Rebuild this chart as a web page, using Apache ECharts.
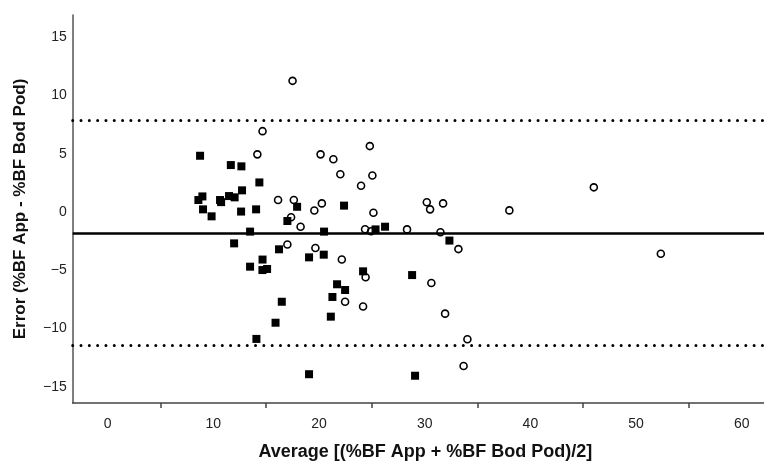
<!DOCTYPE html>
<html>
<head>
<meta charset="utf-8">
<script src="https://cdn.jsdelivr.net/npm/echarts@6/dist/echarts.min.js"></script>
<style>
html,body{margin:0;padding:0;background:#fff;}
#chart{width:764px;height:461px;}
</style>
</head>
<body>
<div id="chart"></div>
<script>
// Filled squares: average (x) and error (y)
var squareX = [8.75, 11.66, 12.66, 14.36, 12.72, 8.97, 8.59, 10.64, 10.74, 11.49, 12.02, 14.05, 12.63, 9.03, 9.84,
  17.93, 17.01, 13.48, 20.48, 22.37, 11.97, 25.35, 26.25, 32.34, 16.22, 19.06, 20.45, 14.66, 13.48, 14.65,
  15.09, 21.71, 22.47, 21.27, 16.48, 15.89, 21.12, 14.08, 19.06, 24.17, 28.81, 29.09];
var squareY = [4.82, 4.02, 3.91, 2.53, 1.85, 1.33, 1.02, 1.02, 0.84, 1.36, 1.25, 0.22, 0.03, 0.22, -0.38,
  0.44, -0.78, -1.69, -1.69, 0.54, -2.70, -1.50, -1.27, -2.46, -3.21, -3.90, -3.67, -4.09, -4.70, -4.99,
  -4.90, -6.21, -6.70, -7.30, -7.71, -9.51, -8.99, -10.90, -13.93, -5.10, -5.42, -14.06];
// Open circles: average (x) and error (y)
var circleX = [17.50, 14.66, 14.17, 20.15, 21.36, 24.81, 22.02, 25.05, 23.98, 16.13, 17.62, 20.27, 19.56,
  25.15, 30.20, 30.51, 31.74, 38.01, 46.00, 17.36, 18.26, 24.36, 24.93, 28.33, 31.49, 33.19, 17.01, 19.66,
  22.16, 24.41, 30.63, 22.47, 24.17, 31.93, 34.04, 33.68, 52.34];
var circleY = [11.25, 6.93, 4.94, 4.94, 4.52, 5.65, 3.23, 3.13, 2.24, 1.02, 1.02, 0.73, 0.12,
  -0.07, 0.83, 0.22, 0.73, 0.13, 2.11, -0.46, -1.27, -1.49, -1.66, -1.50, -1.75, -3.19, -2.80, -3.10,
  -4.09, -5.61, -6.10, -7.71, -8.12, -8.73, -10.93, -13.22, -3.59];
// Bias and limits of agreement
var meanDiff = -1.84;
var upperLoA = 7.85;
var lowerLoA = -11.48;
// Axis ticks
var xLabelValues = [0, 10, 20, 30, 40, 50, 60];
var xTickValues = [5, 15, 25, 35, 45, 55];
var yLabelValues = [-15, -10, -5, 0, 5, 10, 15];

function pairs(xs, ys) { return xs.map(function (v, i) { return [v, ys[i]]; }); }

var FONT = "'Liberation Sans', Arial, sans-serif";
var chart = echarts.init(document.getElementById('chart'), null, {renderer: 'canvas'});
var dotted = {color: '#000', width: 3, type: [0.01, 8.3], cap: 'round'};
chart.setOption({
  animation: false,
  backgroundColor: '#fff',
  grid: {left: 72.7, right: 0, top: 15, bottom: 58, containLabel: false, outerBoundsMode: 'none'},
  xAxis: {
    type: 'value', min: -3.3, max: 62.1,
    name: 'Average [(%BF App + %BF Bod Pod)/2]', nameLocation: 'middle', nameGap: 40,
    nameTextStyle: {fontFamily: FONT, fontWeight: 'bold', fontSize: 18, color: '#111', padding: [0, 0, 0, 14]},
    axisLine: {onZero: false, lineStyle: {color: '#444', width: 1.5}},
    axisTick: {show: true, customValues: xTickValues, length: 5, lineStyle: {color: '#444', width: 1.5}},
    axisLabel: {customValues: xLabelValues, fontFamily: FONT, fontSize: 14, color: '#222', margin: 14},
    splitLine: {show: false}
  },
  yAxis: {
    type: 'value', min: -16.4, max: 16.9,
    name: 'Error (%BF App - %BF Bod Pod)', nameLocation: 'middle', nameGap: 44, nameRotate: 90,
    nameTextStyle: {fontFamily: FONT, fontWeight: 'bold', fontSize: 17, color: '#111'},
    axisLine: {show: true, onZero: false, lineStyle: {color: '#555', width: 1.5}},
    axisTick: {show: false},
    axisLabel: {customValues: yLabelValues, fontFamily: FONT, fontSize: 14, color: '#222', margin: 6,
      formatter: function (v) { return v < 0 ? '\u2212' + Math.abs(v) : String(v); }},
    splitLine: {show: false}
  },
  series: [
    {
      type: 'scatter', name: 'lines', data: [], z: 1,
      markLine: {
        silent: true, symbol: ['none', 'none'], label: {show: false},
        data: [
          {yAxis: upperLoA, lineStyle: dotted},
          {yAxis: meanDiff, lineStyle: {color: '#000', width: 2.5, type: 'solid'}},
          {yAxis: lowerLoA, lineStyle: dotted}
        ]
      }
    },
    {
      type: 'scatter', name: 'circles', symbol: 'circle', symbolSize: 7, z: 3,
      itemStyle: {color: 'rgba(255,255,255,0)', borderColor: '#000', borderWidth: 1.6, opacity: 1},
      data: pairs(circleX, circleY)
    },
    {
      type: 'scatter', name: 'squares', symbol: 'rect', symbolSize: 8, z: 4,
      itemStyle: {color: '#000', opacity: 1},
      data: pairs(squareX, squareY)
    }
  ]
});
</script>
</body>
</html>
